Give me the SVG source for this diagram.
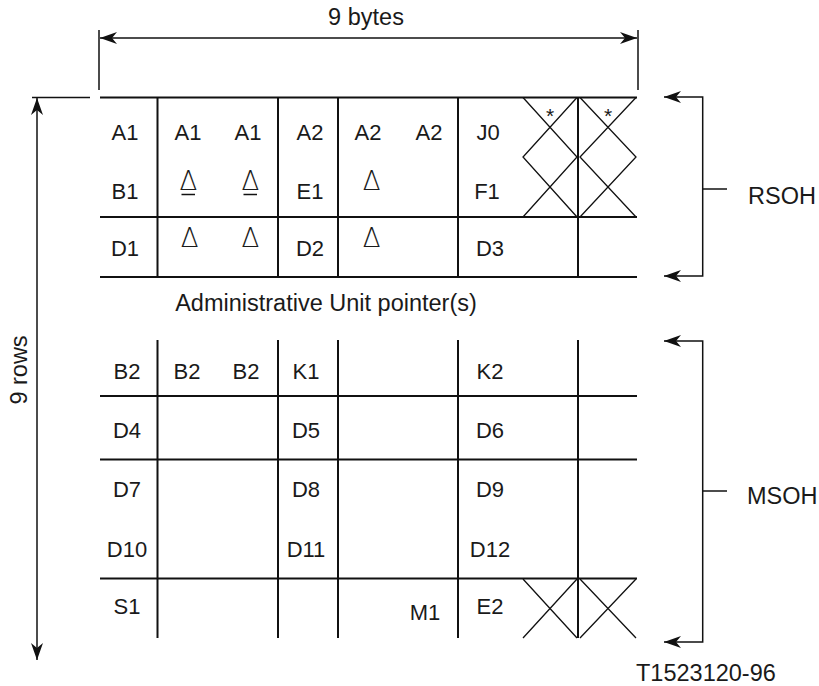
<svg xmlns="http://www.w3.org/2000/svg" width="819" height="686" viewBox="0 0 819 686">
  <style>
    text { font-family: "Liberation Sans", Arial, sans-serif; fill: #1a1a1a; }
    .cell { font-size: 22px; text-anchor: middle; }
    .delta { font-family: "DejaVu Sans", "Liberation Sans", sans-serif; font-weight: 200; font-size: 26px; text-anchor: middle; }
    .star { font-size: 21px; text-anchor: middle; }
    .label { font-size: 23.5px; }
    .grid { stroke: #111; stroke-width: 2; fill: none; }
    .cross { stroke: #111; stroke-width: 1.3; fill: none; }
    .dim { stroke: #111; stroke-width: 1.5; fill: none; }
  </style>
  <defs>
    <marker id="head" viewBox="0 0 17 12" refX="17" refY="6" markerWidth="17" markerHeight="12" markerUnits="userSpaceOnUse" orient="auto-start-reverse">
      <path d="M0,0 L17,6 L0,12 L5,6 Z" fill="#111"/>
    </marker>
  </defs>

  <!-- Regenerator section overhead: rows 1-3 -->
  <g id="rsoh-grid">
    <path class="grid" d="M100,97.5 H637 M100,217 H637 M100,277 H637"/>
    <path class="grid" d="M157.5,97 V277 M278,97 V277 M338,97 V277 M458,97 V277 M578,97 V277"/>
    <path class="cross" d="M523,97.5 L577,157 L523,217 M577,97.5 L523,157 L577,217"/>
    <path class="cross" d="M580,97.5 L636,157 L580,217 M636,97.5 L580,157 L636,217"/>
    <text class="star" x="550" y="123">*</text>
    <text class="star" x="608" y="123">*</text>
  </g>

  <g id="rsoh-bytes">
    <text class="cell" x="125" y="140">A1</text>
    <text class="cell" x="188" y="140">A1</text>
    <text class="cell" x="248" y="140">A1</text>
    <text class="cell" x="310" y="140">A2</text>
    <text class="cell" x="368" y="140">A2</text>
    <text class="cell" x="429" y="140">A2</text>
    <text class="cell" x="488" y="140">J0</text>

    <text class="cell" x="125" y="198.5">B1</text>
    <text class="cell" x="310" y="198.5">E1</text>
    <text class="cell" x="487" y="198.5">F1</text>

    <text class="cell" x="125" y="256">D1</text>
    <text class="cell" x="310" y="256">D2</text>
    <text class="cell" x="490" y="256">D3</text>

    <text class="delta" x="188.3" y="190">Δ</text>
    <text class="delta" x="250.3" y="190">Δ</text>
    <text class="delta" x="371.7" y="190">Δ</text>
    <path class="dim" d="M181.5,194.5 H195 M243.5,194.5 H257"/>
    <text class="delta" x="189.7" y="247">Δ</text>
    <text class="delta" x="250.3" y="247">Δ</text>
    <text class="delta" x="371.7" y="247">Δ</text>
  </g>

  <!-- Pointer row -->
  <g id="pointer-row">
    <text class="label" x="326" y="311" text-anchor="middle">Administrative Unit pointer(s)</text>
  </g>

  <!-- Multiplex section overhead: rows 5-9 -->
  <g id="msoh-grid">
    <path class="grid" d="M100,396 H637 M100,459.5 H637 M100,578.5 H637"/>
    <path class="grid" d="M157.5,340 V638 M278,340 V638 M338,340 V638 M458,340 V638 M578,340 V638"/>
    <path class="cross" d="M523,579 L577,638 M577,579 L523,638"/>
    <path class="cross" d="M580,579 L636,638 M636,579 L580,638"/>
  </g>

  <g id="msoh-bytes">
    <text class="cell" x="127" y="379">B2</text>
    <text class="cell" x="187" y="379">B2</text>
    <text class="cell" x="246" y="379">B2</text>
    <text class="cell" x="306" y="379">K1</text>
    <text class="cell" x="490" y="379">K2</text>

    <text class="cell" x="127" y="438">D4</text>
    <text class="cell" x="306" y="438">D5</text>
    <text class="cell" x="490" y="438">D6</text>

    <text class="cell" x="127" y="497">D7</text>
    <text class="cell" x="306" y="497">D8</text>
    <text class="cell" x="490" y="497">D9</text>

    <text class="cell" x="127" y="556.5">D10</text>
    <text class="cell" x="306" y="556.5">D11</text>
    <text class="cell" x="490" y="556.5">D12</text>

    <text class="cell" x="127" y="614">S1</text>
    <text class="cell" x="425" y="620">M1</text>
    <text class="cell" x="490" y="614">E2</text>
  </g>

  <!-- Dimension lines and section brackets -->
  <g id="connectors">
    <path class="dim" d="M99,30 V90 M638,30 V90"/>
    <path class="dim" d="M100,38 H637" marker-start="url(#head)" marker-end="url(#head)"/>
    <path class="dim" d="M32,97.5 H90"/>
    <path class="dim" d="M37,98 V660" marker-start="url(#head)" marker-end="url(#head)"/>
    <path class="dim" d="M664,97 H702.7 V276 H664" marker-start="url(#head)" marker-end="url(#head)"/>
    <path class="dim" d="M702.7,189 H727"/>
    <path class="dim" d="M664,341 H702.7 V642 H664" marker-start="url(#head)" marker-end="url(#head)"/>
    <path class="dim" d="M702.7,491 H727"/>
  </g>

  <g id="labels">
    <text class="label" x="366" y="25" text-anchor="middle">9 bytes</text>
    <text class="label" transform="translate(27,370) rotate(-90)" text-anchor="middle">9 rows</text>
    <text class="label" x="748" y="204">RSOH</text>
    <text class="label" x="747" y="504">MSOH</text>
    <text class="label" x="636" y="681">T1523120-96</text>
  </g>
</svg>
